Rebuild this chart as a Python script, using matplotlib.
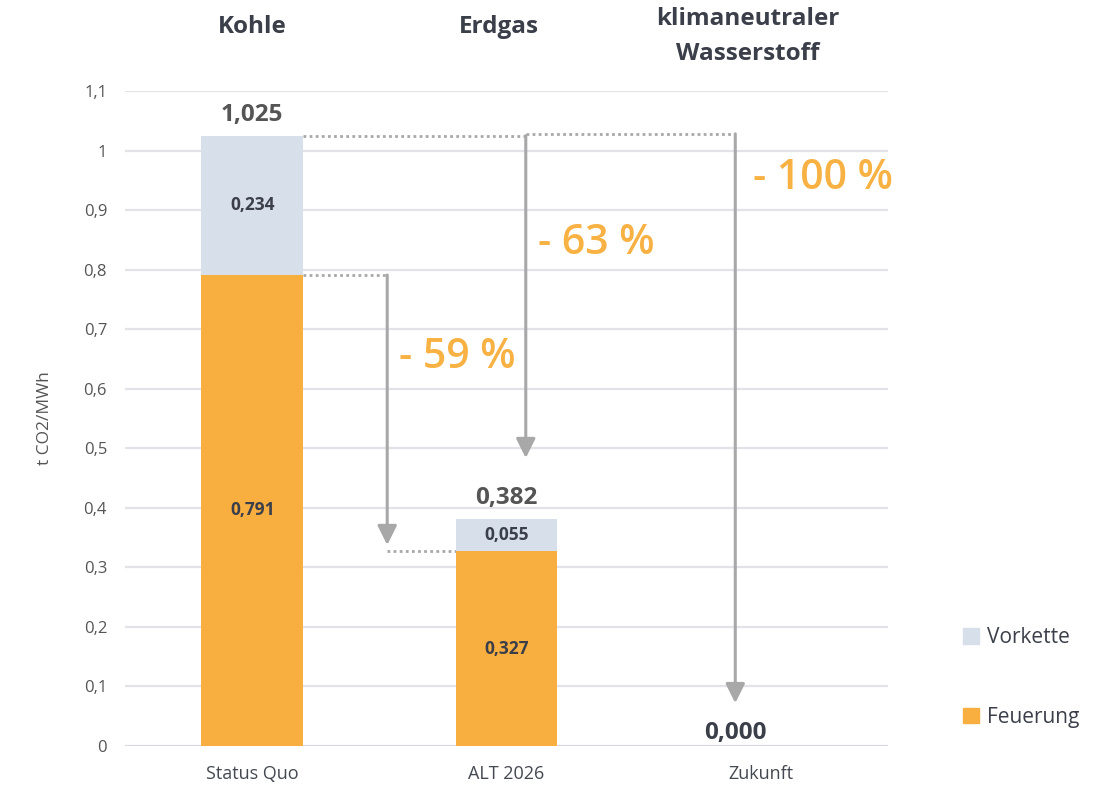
import matplotlib
matplotlib.use("Agg")
import matplotlib.pyplot as plt
from matplotlib.patches import Patch
from matplotlib.transforms import blended_transform_factory

plt.rcParams['font.family'] = ['Open Sans', 'DejaVu Sans']

categories = ["Status Quo", "ALT 2026", "Zukunft"]
titles = ["Kohle", "Erdgas", "klimaneutraler\nWasserstoff"]
feuerung = [0.791, 0.327, 0.0]
vorkette = [0.234, 0.055, 0.0]
totals = [1.025, 0.382, 0.000]
reductions = ["- 59 %", "- 63 %", "- 100 %"]
yticks = [0, 0.1, 0.2, 0.3, 0.4, 0.5, 0.6, 0.7, 0.8, 0.9, 1.0, 1.1]

C_FEU = "#F9AE40"
C_VOR = "#D7DFEA"
C_PCT = "#F8B143"
C_ARR = "#A8A8A8"
C_TXT = "#3B3F4A"
C_GRAY = "#555555"

def fmt(v, nd=3):
    return f"{v:.{nd}f}".replace(".", ",")

def fmt_tick(v):
    s = f"{v:.1f}".replace(".", ",")
    if s.endswith(",0"):
        s = s[:-2]
    return s

fig = plt.figure(figsize=(11.07, 7.85), dpi=100)
ax = fig.add_axes([0.113, 0.0497, 0.689, 0.8344])

x = list(range(len(categories)))
w = 0.4
ax.bar(x, feuerung, width=w, color=C_FEU, label="Feuerung", zorder=3)
ax.bar(x, vorkette, width=w, bottom=feuerung, color=C_VOR, label="Vorkette", zorder=3)

ax.set_xlim(-0.5, 2.5)
ax.set_ylim(0, 1.1)
ax.set_yticks(yticks)
ax.set_yticklabels([fmt_tick(v) for v in yticks])
ax.set_xticks(x)
ax.set_xticklabels(categories)
ax.tick_params(axis='y', length=0, pad=13, labelsize=12, labelcolor=C_GRAY)
ax.tick_params(axis='x', length=0, pad=14, labelsize=13, labelcolor="#444851")
for s in ax.spines.values():
    s.set_visible(False)
ax.yaxis.grid(True, color="#E1E3E9", linewidth=1.6, zorder=0)
ax.set_axisbelow(True)
ax.axhline(0, color="#D3D6DD", linewidth=1.8, zorder=1)
ax.set_ylabel("t CO2/MWh", fontsize=12.5, color=C_GRAY, labelpad=22)

# segment labels
for i in x:
    if feuerung[i] > 0:
        ax.text(i, feuerung[i] / 2, fmt(feuerung[i]), ha='center', va='center',
                fontsize=12.5, fontweight='bold', color=C_TXT, zorder=4)
    if vorkette[i] > 0:
        ax.text(i, feuerung[i] + vorkette[i] / 2, fmt(vorkette[i]), ha='center', va='center',
                fontsize=12.5, fontweight='bold', color=C_TXT, zorder=4)
# totals
for i in x:
    col = C_GRAY if totals[i] > 0 else C_TXT
    xi = i if totals[i] > 0 else i - 0.1
    ax.annotate(fmt(totals[i]), (xi, totals[i]), xytext=(0, 6 if totals[i] > 0 else 1),
                textcoords='offset points', ha='center', va='bottom',
                fontsize=17.5, fontweight='bold', color=col, zorder=4)

# titles
tr = blended_transform_factory(ax.transData, fig.transFigure)
title_x = [0, 0.97, 1.95]
for i, t in enumerate(titles):
    yy = 0.966 if "\n" not in t else 0.953
    ax.text(title_x[i], yy, t, transform=tr, ha='center', va='center',
            fontsize=17.5, fontweight='bold', color=C_TXT, linespacing=1.6)

# dotted connectors and arrows
dot = dict(color=C_ARR, linewidth=2, linestyle=(0, (1, 1.2)), zorder=2)
x1, x2, x3 = 0.531, 1.076, 1.9
ax.plot([0.2, x1], [feuerung[0], feuerung[0]], **dot)
ax.plot([x1, 0.873], [feuerung[1], feuerung[1]], **dot)
ax.plot([0.2, x2], [totals[0], totals[0]], **dot)
ax.plot([x2, x3], [totals[0] + 0.003, totals[0] + 0.003], **dot)

arr = dict(arrowstyle='-|>,head_length=0.9,head_width=0.45', color=C_ARR, lw=2.2,
           shrinkA=0, shrinkB=0, mutation_scale=13)
ax.annotate('', xy=(x1, 0.3375), xytext=(x1, feuerung[0]), arrowprops=arr, zorder=2)
ax.annotate('', xy=(x2, 0.4836), xytext=(x2, totals[0]), arrowprops=arr, zorder=2)
ax.annotate('', xy=(x3, 0.072), xytext=(x3, totals[0] + 0.003), arrowprops=arr, zorder=2)

# reduction labels
pct_pos = [(0.806, 0.653), (1.355, 0.845), (2.245, 0.954)]
for (px, py), t in zip(pct_pos, reductions):
    ax.text(px, py, t, ha='center', va='center', fontsize=29.5, fontweight='semibold',
            color=C_PCT, clip_on=False, zorder=4)

# legend
handles = [Patch(color=C_VOR, label="Vorkette"), Patch(color=C_FEU, label="Feuerung")]
leg = fig.legend(handles=handles, loc='center left', bbox_to_anchor=(0.853, 0.137),
                 frameon=False, fontsize=15, handlelength=0.75, handleheight=0.75,
                 handletextpad=0.4, labelspacing=2.8, labelcolor=C_TXT)

fig.savefig("out.png", dpi=100)
